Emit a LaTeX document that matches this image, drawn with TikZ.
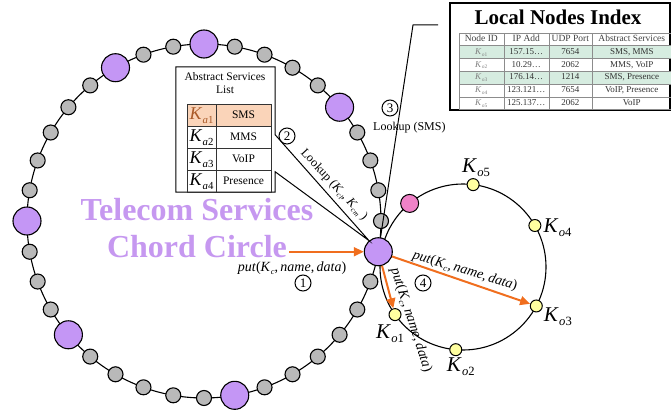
\documentclass[tikz,border=0pt]{standalone}
\usepackage{fontspec}
\setmainfont{Liberation Serif}
\usepackage{graphicx}
\usetikzlibrary{positioning, arrows.meta, calc, matrix}

\definecolor{ringpurple}{RGB}{196,150,245}
\definecolor{titlelav}{RGB}{198,152,240}
\definecolor{nodegray}{RGB}{185,185,185}
\definecolor{koyellow}{RGB}{255,255,160}
\definecolor{pinknode}{RGB}{240,130,200}
\definecolor{putorange}{RGB}{240,110,30}
\definecolor{smspeach}{RGB}{250,212,185}
\definecolor{mintrow}{RGB}{214,236,224}
\definecolor{kabrown}{RGB}{170,90,40}

\newcommand{\Kname}[1]{\textit{K}\kern0.3pt\raisebox{-0.45ex}{\scalebox{0.6}{#1}}}
\newcommand{\putlabel}{\textit{put}(\Kname{\textit{c}},\,\textit{name},\,\textit{data})}

\begin{document}
\begin{tikzpicture}[
    x=1pt, y=-1pt,
    ringnode/.style={circle, draw, line width=1.1pt, fill=nodegray, minimum size=15pt, inner sep=0pt},
    bignode/.style={circle, draw, line width=1.1pt, fill=ringpurple, minimum size=28pt, inner sep=0pt},
    onode/.style={circle, draw, line width=1pt, fill=koyellow, minimum size=12pt, inner sep=0pt},
    klabel/.style={font=\fontsize{21}{21}\selectfont, inner sep=0pt},
    numcirc/.style={circle, draw, line width=1pt, minimum size=16pt, inner sep=0pt, font=\fontsize{13}{13}\selectfont},
    putarr/.style={-{Triangle[length=10pt, width=9pt]}, line width=2pt, draw=putorange},
    putlbl/.style={font=\fontsize{14}{14}\selectfont, inner sep=1pt},
    bigtitle/.style={font=\fontsize{32}{32}\selectfont\bfseries, text=titlelav, inner sep=2pt, anchor=base},
]
\useasboundingbox (0,0) rectangle (671,412);
\coordinate (ringC) at (204,221);
\coordinate (smallC) at (463,267);

% the two rings
\draw[line width=1.1pt] (ringC) circle[radius=177];
\draw[line width=1.1pt] (smallC) circle[radius=83];

% telecom services chord circle
\foreach \i in {0,...,35}
    \node[ringnode] (r\i) at ($(ringC)+({10-10*\i}:177)$) {};
\foreach \i in {0,5,10,13,19,23,29}
    \node[bignode] (p\i) at (r\i) {};

% local ring
\node[onode] (ko1) at ($(smallC)+(145:83)$) {};
\node[onode] (ko2) at ($(smallC)+(95:83)$) {};
\node[onode] (ko3) at ($(smallC)+(28:83)$) {};
\node[onode] (ko4) at ($(smallC)+(-30:83)$) {};
\node[onode] (ko5) at ($(smallC)+(-83:83)$) {};
\node[circle, draw, line width=1pt, fill=pinknode, minimum size=18pt, inner sep=0pt] (pk) at ($(smallC)+(-130:83)$) {};
\node[klabel, below=3pt of ko1, xshift=-5pt] (ko1l) {\Kname{\textit{o}1}};
\node[klabel, below=1pt of ko2, xshift=5pt] (ko2l) {\Kname{\textit{o}2}};
\node[klabel, right=1pt of ko3, yshift=-11pt] (ko3l) {\Kname{\textit{o}3}};
\node[klabel, right=2pt of ko4, yshift=-2pt] (ko4l) {\Kname{\textit{o}4}};
\node[klabel, above=1pt of ko5, xshift=3pt] (ko5l) {\Kname{\textit{o}5}};

% title
\node[bigtitle] (telecomtitle) at (197,220) {Telecom Services};
\node[bigtitle] (chordtitle) at (197,257) {Chord Circle};

% abstract services list callout
\node[minimum width=99pt, minimum height=125pt, inner sep=0pt] (aslbox) at (225.5,129.5) {};
\coordinate (aslgapA) at ($(aslbox.north east)+(0,68)$);
\coordinate (aslgapB) at ($(aslbox.north east)+(0,105)$);
\draw[line width=1pt] (aslbox.north west) -- (aslbox.north east) -- (aslgapA) -- (p0.130) -- (aslgapB) -- (aslbox.south east) -- (aslbox.south west) -- cycle;
\node[font=\fontsize{11.5}{13}\selectfont, align=center, inner sep=0pt] (asltitle) at (225,83) {Abstract Services\\List};
\matrix (asltab) [matrix of nodes, anchor=north west, row sep=-1pt, column sep=-1pt,
    nodes={draw=black!80, line width=1pt, anchor=center, minimum height=22pt, inner sep=0pt, text height=9pt, text depth=3pt, font=\fontsize{11.5}{11.5}\selectfont},
    column 1/.style={nodes={minimum width=29pt, text height=12pt, font=\fontsize{18}{18}\selectfont}},
    column 2/.style={nodes={minimum width=55pt}},
    row 1/.style={nodes={fill=smspeach}},
    row 1 column 1/.style={nodes={text=kabrown}},
] at (183,100) {
    \Kname{\textit{a}1} & SMS \\
    \Kname{\textit{a}2} & MMS \\
    \Kname{\textit{a}3} & VoIP \\
    \Kname{\textit{a}4} & Presence \\
};
\node[numcirc] (n2) at (287,136) {2};
\node[font=\fontsize{12.5}{12.5}\selectfont, rotate=-47, inner sep=0pt] (lookup2) at (334,185) {Lookup (\Kname{\textit{cl}}, \Kname{\textit{cm}} )};

% local nodes index callout
\coordinate (lnibend) at (413,25);
\coordinate (lnitip) at (438,25);
\draw[line width=1pt] (p0) -- (lnibend) -- (lnitip);
\node[numcirc] (n3) at (390,108) {3};
\node[anchor=west, font=\fontsize{12}{12}\selectfont, inner sep=0pt] (lookup3) at (373,128) {Lookup (SMS)};
\node[draw, line width=1.2pt, minimum width=220pt, minimum height=107pt, inner sep=0pt] (lnibox) at (560,56.5) {};
\node[font=\fontsize{21}{21}\selectfont\bfseries, inner sep=0pt] (lnititle) at (558,17) {Local Nodes Index};
\matrix (lnitab) [matrix of nodes, anchor=north west, row sep=-0.5pt, column sep=-0.5pt,
    nodes={draw=black!45, line width=0.5pt, anchor=center, minimum height=12.8pt, inner sep=0pt, text height=6.3pt, text depth=1.8pt, text=black!80, font=\fontsize{9}{9}\selectfont},
    column 1/.style={nodes={minimum width=45pt, text=black!50}},
    column 2/.style={nodes={minimum width=45pt}},
    column 3/.style={nodes={minimum width=43pt}},
    column 4/.style={nodes={minimum width=80pt}},
    row 1/.style={nodes={font=\fontsize{9.5}{9.5}\selectfont, text=black!75}},
    row 2/.style={nodes={fill=mintrow}},
    row 4/.style={nodes={fill=mintrow}},
] at (455,29) {
    Node ID & IP Add & UDP Port & Abstract Services \\
    \Kname{\textit{o}1} & 157.15\dots & 7654 & SMS, MMS \\
    \Kname{\textit{o}2} & 10.29\dots & 2062 & MMS, VoIP \\
    \Kname{\textit{o}3} & 176.14\dots & 1214 & SMS, Presence \\
    \Kname{\textit{o}4} & 123.121\dots & 7654 & VoIP, Presence \\
    \Kname{\textit{o}5} & 125.137\dots & 2062 & VoIP \\
};

% put messages
\draw[putarr] (chordtitle.east |- p0) -- (p0);
\node[putlbl] (put1) at (292,268) {\putlabel};
\node[numcirc] (n1) at (303,283) {1};
\draw[putarr] (p0) -- (ko3);
\node[putlbl, rotate=-17] (put4) at (465,271) {\putlabel};
\node[numcirc] (n4) at (423,283) {4};
\draw[putarr] (p0) -- (ko1);
\node[putlbl, rotate=-72] (put5) at (411,320) {\putlabel};
\end{tikzpicture}
\end{document}
